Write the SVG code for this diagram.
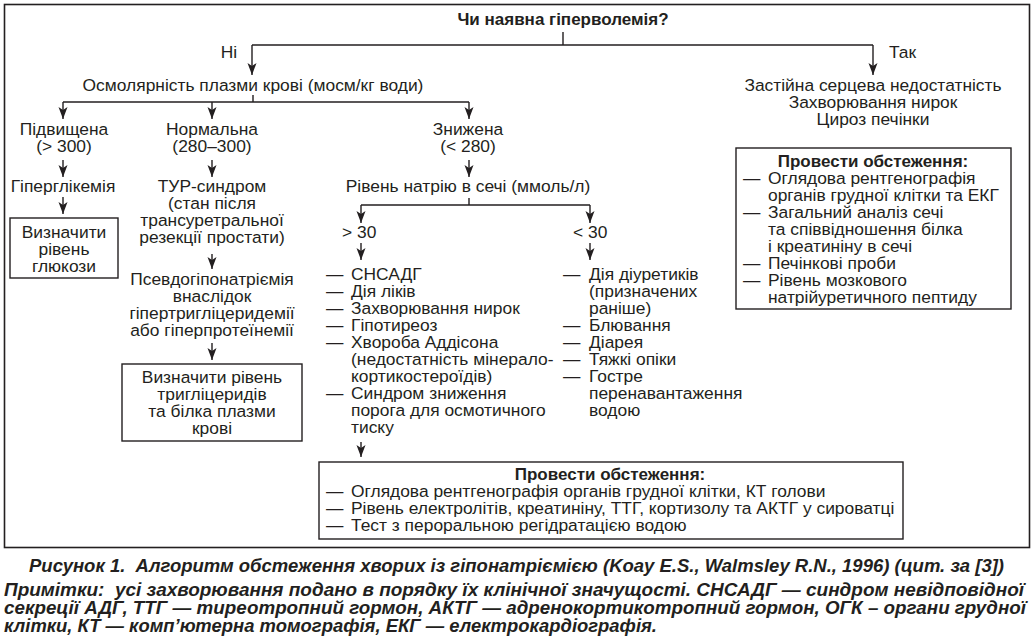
<svg xmlns="http://www.w3.org/2000/svg" width="1034" height="643" viewBox="0 0 1034 643">
<style>
text{font-family:"Liberation Sans",Arial,sans-serif;font-size:17.4px;fill:#231f20}
.c{text-anchor:middle}
.b{font-weight:bold;font-size:17px}
.cap{font-weight:bold;font-style:italic;font-size:18.2px}
.box{fill:none;stroke:#231f20;stroke-width:1.4}
.ln{fill:none;stroke:#231f20;stroke-width:1.4}
.ar{fill:none;stroke:#231f20;stroke-width:1.4;marker-end:url(#ah)}
</style>
<defs>
<marker id="ah" viewBox="0 -5 12 10" markerWidth="12" markerHeight="10" refX="12" refY="0" orient="auto" markerUnits="userSpaceOnUse">
<path d="M0,-4.5 L12,0 L0,4.5 L3,0 z" fill="#231f20"/>
</marker>
</defs>
<rect x="4.5" y="4.5" width="1025" height="543" fill="none" stroke="#231f20" stroke-width="1.6"/>
<g id="connectors">
<path class="ln" d="M563,32 V45 M252,45 H873"/>
<line class="ar" x1="252" y1="45" x2="252" y2="75"/>
<line class="ar" x1="873" y1="45" x2="873" y2="75"/>
<path class="ln" d="M253,95 V102 M63,102 H469"/>
<line class="ar" x1="63" y1="102" x2="63" y2="119"/>
<line class="ar" x1="212" y1="102" x2="212" y2="119"/>
<line class="ar" x1="469" y1="102" x2="469" y2="119"/>
<line class="ar" x1="63" y1="160" x2="63" y2="177"/>
<line class="ar" x1="63" y1="197" x2="63" y2="214"/>
<line class="ar" x1="212" y1="160" x2="212" y2="177"/>
<line class="ar" x1="212" y1="254" x2="212" y2="269"/>
<line class="ar" x1="212" y1="343" x2="212" y2="360"/>
<line class="ar" x1="469" y1="160" x2="469" y2="177"/>
<path class="ln" d="M469,198 V205 M361,205 H590"/>
<line class="ar" x1="361" y1="205" x2="361" y2="223"/>
<line class="ar" x1="590" y1="205" x2="590" y2="223"/>
<line class="ar" x1="361" y1="243" x2="361" y2="260"/>
<line class="ar" x1="590" y1="243" x2="590" y2="260"/>
<line class="ar" x1="361" y1="442" x2="361" y2="457"/>
</g>
<g id="n-question"><text class="c b" x="563" y="25">Чи наявна гіперволемія?</text></g>
<g id="l-no"><text class="c" x="229" y="58">Ні</text></g>
<g id="l-yes"><text x="889" y="58">Так</text></g>
<g id="n-osm"><text class="c" x="253" y="91">Осмолярність плазми крові (мосм/кг води)</text></g>
<g id="n-hyper">
<text class="c" x="873" y="91">Застійна серцева недостатність</text>
<text class="c" x="873" y="108">Захворювання нирок</text>
<text class="c" x="873" y="125">Цироз печінки</text>
</g>
<g id="n-exam-right">
<rect class="box" x="736" y="148" width="275" height="161"/>
<text class="c b" x="873" y="167">Провести обстеження:</text>
<text x="743" y="184">—</text><text x="768" y="184">Оглядова рентгенографія</text>
<text x="768" y="201">органів грудної клітки та ЕКГ</text>
<text x="743" y="218">—</text><text x="768" y="218">Загальний аналіз сечі</text>
<text x="768" y="235">та співвідношення білка</text>
<text x="768" y="252">і креатиніну в сечі</text>
<text x="743" y="269">—</text><text x="768" y="269">Печінкові проби</text>
<text x="743" y="286">—</text><text x="768" y="286">Рівень мозкового</text>
<text x="768" y="303">натрійуретичного пептиду</text>
</g>
<g id="n-high">
<text class="c" x="64" y="135">Підвищена</text>
<text class="c" x="64" y="152">(&gt; 300)</text>
</g>
<g id="n-hyperglyc"><text class="c" x="63" y="192">Гіперглікемія</text></g>
<g id="n-glucose">
<rect class="box" x="10" y="218" width="108" height="60"/>
<text class="c" x="64" y="238">Визначити</text>
<text class="c" x="64" y="255">рівень</text>
<text class="c" x="64" y="272">глюкози</text>
</g>
<g id="n-normal">
<text class="c" x="212" y="135">Нормальна</text>
<text class="c" x="212" y="152">(280–300)</text>
</g>
<g id="n-tur">
<text class="c" x="212" y="192">ТУР-синдром</text>
<text class="c" x="212" y="209">(стан після</text>
<text class="c" x="212" y="226">трансуретральної</text>
<text class="c" x="212" y="243">резекції простати)</text>
</g>
<g id="n-pseudo">
<text class="c" x="212" y="285">Псевдогіпонатріємія</text>
<text class="c" x="212" y="302">внаслідок</text>
<text class="c" x="212" y="319">гіпертригліцеридемії</text>
<text class="c" x="212" y="336">або гіперпротеїнемії</text>
</g>
<g id="n-trig">
<rect class="box" x="122" y="364" width="180" height="77"/>
<text class="c" x="212" y="383">Визначити рівень</text>
<text class="c" x="212" y="400">тригліцеридів</text>
<text class="c" x="212" y="417">та білка плазми</text>
<text class="c" x="212" y="434">крові</text>
</g>
<g id="n-low">
<text class="c" x="468" y="135">Знижена</text>
<text class="c" x="468" y="152">(&lt; 280)</text>
</g>
<g id="n-na"><text class="c" x="468" y="192">Рівень натрію в сечі (ммоль/л)</text></g>
<g id="l-gt30"><text x="342" y="238">&gt; 30</text></g>
<g id="l-lt30"><text x="573" y="238">&lt; 30</text></g>
<g id="n-list-left">
<text x="326" y="280">—</text><text x="351" y="280">СНСАДГ</text>
<text x="326" y="297">—</text><text x="351" y="297">Дія ліків</text>
<text x="326" y="314">—</text><text x="351" y="314">Захворювання нирок</text>
<text x="326" y="331">—</text><text x="351" y="331">Гіпотиреоз</text>
<text x="326" y="348">—</text><text x="351" y="348">Хвороба Аддісона</text>
<text x="351" y="365">(недостатність мінерало-</text>
<text x="351" y="382">кортикостероїдів)</text>
<text x="326" y="399">—</text><text x="351" y="399">Синдром зниження</text>
<text x="351" y="416">порога для осмотичного</text>
<text x="351" y="433">тиску</text>
</g>
<g id="n-list-right">
<text x="563" y="280">—</text><text x="589" y="280">Дія діуретиків</text>
<text x="589" y="297">(призначених</text>
<text x="589" y="314">раніше)</text>
<text x="563" y="331">—</text><text x="589" y="331">Блювання</text>
<text x="563" y="348">—</text><text x="589" y="348">Діарея</text>
<text x="563" y="365">—</text><text x="589" y="365">Тяжкі опіки</text>
<text x="563" y="382">—</text><text x="589" y="382">Гостре</text>
<text x="589" y="399">перенавантаження</text>
<text x="589" y="416">водою</text>
</g>
<g id="n-exam-bottom">
<rect class="box" x="319" y="462" width="584" height="77"/>
<text class="c b" x="610" y="480">Провести обстеження:</text>
<text x="326" y="497">—</text><text x="351" y="497">Оглядова рентгенографія органів грудної клітки, КТ голови</text>
<text x="326" y="514">—</text><text x="351" y="514">Рівень електролітів, креатиніну, ТТГ, кортизолу та АКТГ у сироватці</text>
<text x="326" y="531">—</text><text x="351" y="531">Тест з пероральною регідратацією водою</text>
</g>
<g id="caption">
<text class="cap" x="29" y="572" textLength="975" lengthAdjust="spacingAndGlyphs">Рисунок 1.&#160; Алгоритм обстеження хворих із гіпонатріємією (Koay E.S., Walmsley R.N., 1996) (цит. за [3])</text>
<text class="cap" x="4" y="596" textLength="1020" lengthAdjust="spacingAndGlyphs">Примітки:&#160; усі захворювання подано в порядку їх клінічної значущості. СНСАДГ — синдром невідповідної</text>
<text class="cap" x="4" y="614" textLength="1022" lengthAdjust="spacingAndGlyphs">секреції АДГ, ТТГ — тиреотропний гормон, АКТГ — адренокортикотропний гормон, ОГК – органи грудної</text>
<text class="cap" x="4" y="632" textLength="653" lengthAdjust="spacingAndGlyphs">клітки, КТ — комп’ютерна томографія, ЕКГ — електрокардіографія.</text>
</g>
</svg>
